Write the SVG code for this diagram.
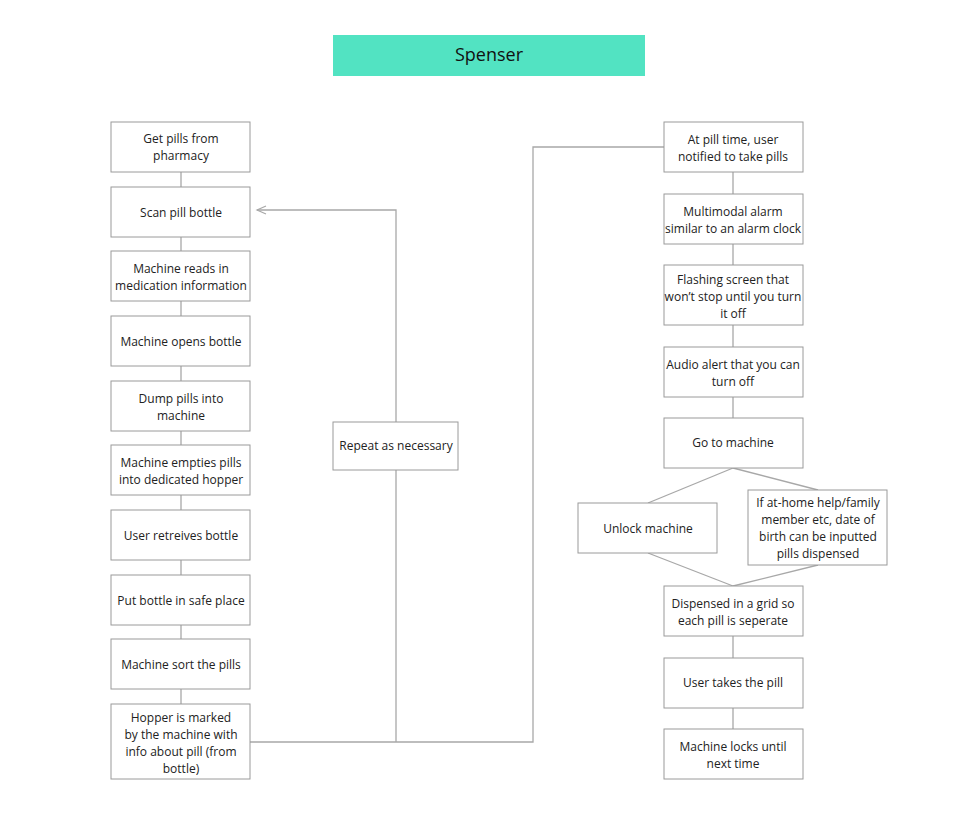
<svg xmlns="http://www.w3.org/2000/svg" width="978" height="829" viewBox="0 0 978 829">
<style>
.box{fill:#fff;stroke:#9a9a9a;stroke-width:1}
.t{font-family:"Open Sans","Liberation Sans",sans-serif;font-size:12px;fill:#222;text-anchor:middle}
.c{fill:none;stroke:#a8a8a8;stroke-width:1.3}
</style>
<defs>
<marker id="arr" markerWidth="12" markerHeight="10" refX="10" refY="5" orient="auto" markerUnits="userSpaceOnUse">
<path d="M1,1 L10,5 L1,9" fill="none" stroke="#a8a8a8" stroke-width="1.2"/>
</marker>
</defs>
<rect width="978" height="829" fill="#fff"/>
<g id="title">
<rect x="333" y="35" width="312" height="41" fill="#52e3c2"/>
<text x="489" y="61" font-family="Open Sans, Liberation Sans, sans-serif" font-size="18" fill="#111" text-anchor="middle">Spenser</text>
</g>
<g id="connectors">
<line class="c" x1="181" y1="172" x2="181" y2="187"/>
<line class="c" x1="181" y1="237" x2="181" y2="251"/>
<line class="c" x1="181" y1="301" x2="181" y2="316"/>
<line class="c" x1="181" y1="366" x2="181" y2="381"/>
<line class="c" x1="181" y1="431" x2="181" y2="445"/>
<line class="c" x1="181" y1="495" x2="181" y2="510"/>
<line class="c" x1="181" y1="560" x2="181" y2="575"/>
<line class="c" x1="181" y1="625" x2="181" y2="639"/>
<line class="c" x1="181" y1="689" x2="181" y2="704"/>
<path class="c" d="M250,742 H533 V147 H664"/>
<line class="c" x1="396" y1="742" x2="396" y2="470"/>
<path class="c" d="M396,422 V210 H257" marker-end="url(#arr)"/>
<line class="c" x1="733" y1="172" x2="733" y2="194"/>
<line class="c" x1="733" y1="244" x2="733" y2="265"/>
<line class="c" x1="733" y1="325" x2="733" y2="347"/>
<line class="c" x1="733" y1="397" x2="733" y2="418"/>
<line class="c" x1="733" y1="468" x2="648" y2="503"/>
<line class="c" x1="733" y1="468" x2="818" y2="490"/>
<line class="c" x1="648" y1="553" x2="733" y2="586"/>
<line class="c" x1="818" y1="565" x2="733" y2="586"/>
<line class="c" x1="733" y1="636" x2="733" y2="658"/>
<line class="c" x1="733" y1="708" x2="733" y2="729"/>
</g>
<g id="n1"><rect class="box" x="111" y="122" width="139" height="50"/><text class="t" x="181" y="143">Get pills from</text><text class="t" x="181" y="160">pharmacy</text></g>
<g id="n2"><rect class="box" x="111" y="187" width="139" height="50"/><text class="t" x="181" y="217">Scan pill bottle</text></g>
<g id="n3"><rect class="box" x="111" y="251" width="139" height="50"/><text class="t" x="181" y="273">Machine reads in</text><text class="t" x="181" y="290">medication information</text></g>
<g id="n4"><rect class="box" x="111" y="316" width="139" height="50"/><text class="t" x="181" y="346">Machine opens bottle</text></g>
<g id="n5"><rect class="box" x="111" y="381" width="139" height="50"/><text class="t" x="181" y="403">Dump pills into</text><text class="t" x="181" y="420">machine</text></g>
<g id="n6"><rect class="box" x="111" y="445" width="139" height="50"/><text class="t" x="181" y="467">Machine empties pills</text><text class="t" x="181" y="484">into dedicated hopper</text></g>
<g id="n7"><rect class="box" x="111" y="510" width="139" height="50"/><text class="t" x="181" y="540">User retreives bottle</text></g>
<g id="n8"><rect class="box" x="111" y="575" width="139" height="50"/><text class="t" x="181" y="605">Put bottle in safe place</text></g>
<g id="n9"><rect class="box" x="111" y="639" width="139" height="50"/><text class="t" x="181" y="669">Machine sort the pills</text></g>
<g id="n10"><rect class="box" x="111" y="704" width="139" height="75"/><text class="t" x="181" y="722">Hopper is marked</text><text class="t" x="181" y="739">by the machine with</text><text class="t" x="181" y="756">info about pill (from</text><text class="t" x="181" y="773">bottle)</text></g>
<g id="repeat"><rect class="box" x="333" y="422" width="125" height="48"/><text class="t" x="396" y="450">Repeat as necessary</text></g>
<g id="r1"><rect class="box" x="664" y="122" width="139" height="50"/><text class="t" x="733" y="144">At pill time, user</text><text class="t" x="733" y="161">notified to take pills</text></g>
<g id="r2"><rect class="box" x="664" y="194" width="139" height="50"/><text class="t" x="733" y="216">Multimodal alarm</text><text class="t" x="733" y="233">similar to an alarm clock</text></g>
<g id="r3"><rect class="box" x="664" y="265" width="139" height="60"/><text class="t" x="733" y="284">Flashing screen that</text><text class="t" x="733" y="301">won’t stop until you turn</text><text class="t" x="733" y="318">it off</text></g>
<g id="r4"><rect class="box" x="664" y="347" width="139" height="50"/><text class="t" x="733" y="369">Audio alert that you can</text><text class="t" x="733" y="386">turn off</text></g>
<g id="r5"><rect class="box" x="664" y="418" width="139" height="50"/><text class="t" x="733" y="447">Go to machine</text></g>
<g id="unlock"><rect class="box" x="578" y="503" width="139" height="50"/><text class="t" x="648" y="533">Unlock machine</text></g>
<g id="athome"><rect class="box" x="748" y="490" width="139" height="75"/><text class="t" x="818" y="507">If at-home help/family</text><text class="t" x="818" y="524">member etc, date of</text><text class="t" x="818" y="541">birth can be inputted</text><text class="t" x="818" y="558">pills dispensed</text></g>
<g id="r6"><rect class="box" x="664" y="586" width="139" height="50"/><text class="t" x="733" y="608">Dispensed in a grid so</text><text class="t" x="733" y="625">each pill is seperate</text></g>
<g id="r7"><rect class="box" x="664" y="658" width="139" height="50"/><text class="t" x="733" y="687">User takes the pill</text></g>
<g id="r8"><rect class="box" x="664" y="729" width="139" height="50"/><text class="t" x="733" y="751">Machine locks until</text><text class="t" x="733" y="768">next time</text></g>
</svg>
